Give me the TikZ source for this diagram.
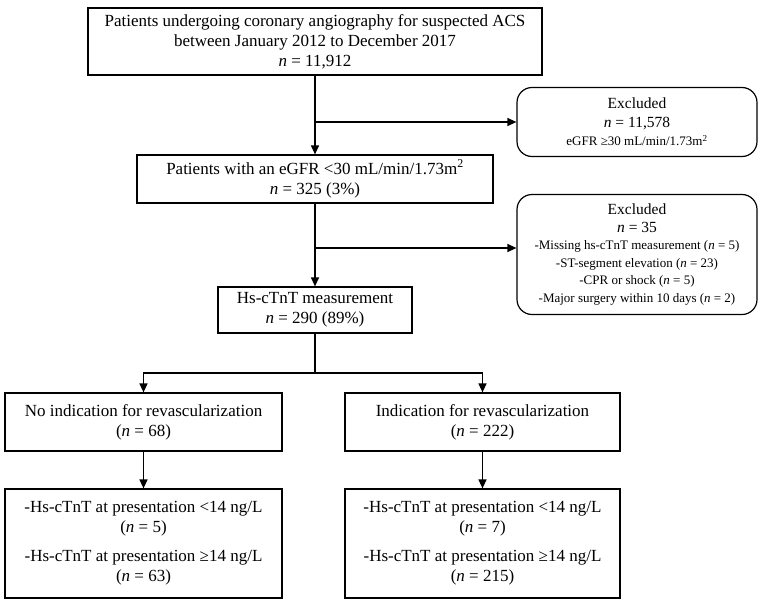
\documentclass[tikz,border=0pt]{standalone}
\usepackage{fontspec}
\setmainfont{Liberation Serif}
\usetikzlibrary{arrows.meta}

\tikzset{every picture/.style={line width=1.2pt}}
\tikzset{
  box/.style={draw, align=center, inner sep=2pt, font=\fontsize{17}{20}\selectfont},
  exclbox/.style={draw, rounded corners=15pt, align=center, inner sep=2pt, font=\fontsize{15.5}{18.5}\selectfont},
  arr/.style={-{Triangle[length=9pt,width=8pt]}}
}
\newcommand{\nn}{\textit{n}}

\begin{document}
\begin{tikzpicture}[x=1pt,y=1pt,yscale=-1,xscale=1]
    \useasboundingbox (0,0) rectangle (761,608);

    % Boxes on the main line
    \node (top) [box, minimum width=454pt, minimum height=67pt] at (315,41.5)
        {Patients undergoing coronary angiography for suspected ACS\\between January 2012 to December 2017\\\nn{} = 11,912};
    \node (egfr) [box, minimum width=356pt, minimum height=48pt] at (315,179)
        {Patients with an eGFR <30 mL/min/1.73m\textsuperscript{2}\\\nn{} = 325 (3\%)};
    \node (hs) [box, minimum width=194pt, minimum height=46pt] at (315,310)
        {Hs-cTnT measurement\\\nn{} = 290 (89\%)};

    % Excluded boxes
    \node (excl1) [exclbox, minimum width=240pt, minimum height=69pt] at (637,122)
        {Excluded\\\nn{} = 11,578\\{\fontsize{13}{15}\selectfont eGFR ≥30 mL/min/1.73m\textsuperscript{2}}};
    \node (excl2) [exclbox, minimum width=240pt, minimum height=120pt, font=\fontsize{13}{17.5}\selectfont] at (637,254.5)
        {{\fontsize{15.5}{18.5}\selectfont Excluded}\\{\fontsize{15.5}{18.5}\selectfont \nn{} = 35}\\-Missing hs-cTnT measurement (\nn{} = 5)\\-ST-segment elevation (\nn{} = 23)\\-CPR or shock (\nn{} = 5)\\-Major surgery within 10 days (\nn{} = 2)};

    % Two groups
    \node (noind) [box, minimum width=277pt, minimum height=58pt] at (143.5,422)
        {No indication for revascularization\\(\nn{} = 68)};
    \node (ind) [box, minimum width=275pt, minimum height=58pt] at (482.5,422)
        {Indication for revascularization\\(\nn{} = 222)};
    \node (noindres) [box, minimum width=277pt, minimum height=109pt] at (143.5,543.5)
        {-Hs-cTnT at presentation <14 ng/L\\(\nn{} = 5)\\[9pt]-Hs-cTnT at presentation ≥14 ng/L\\(\nn{} = 63)};
    \node (indres) [box, minimum width=275pt, minimum height=109pt] at (482.5,543.5)
        {-Hs-cTnT at presentation <14 ng/L\\(\nn{} = 7)\\[9pt]-Hs-cTnT at presentation ≥14 ng/L\\(\nn{} = 215)};

    % Connectors
    \coordinate (j2) at (315,248);
    \coordinate (fork) at (315,373);
    \draw[arr] (top) -- (egfr);
    \draw[arr] (top.south |- excl1.west) -- (excl1.west);
    \draw[arr] (egfr) -- (hs);
    \draw[arr] (j2) -- (j2 -| excl2.west);
    \draw (hs) -- (fork);
    \draw[arr] (fork) -| (noind);
    \draw[arr] (fork) -| (ind);
    \draw[arr] (noind) -- (noindres);
    \draw[arr] (ind) -- (indres);
\end{tikzpicture}
\end{document}
